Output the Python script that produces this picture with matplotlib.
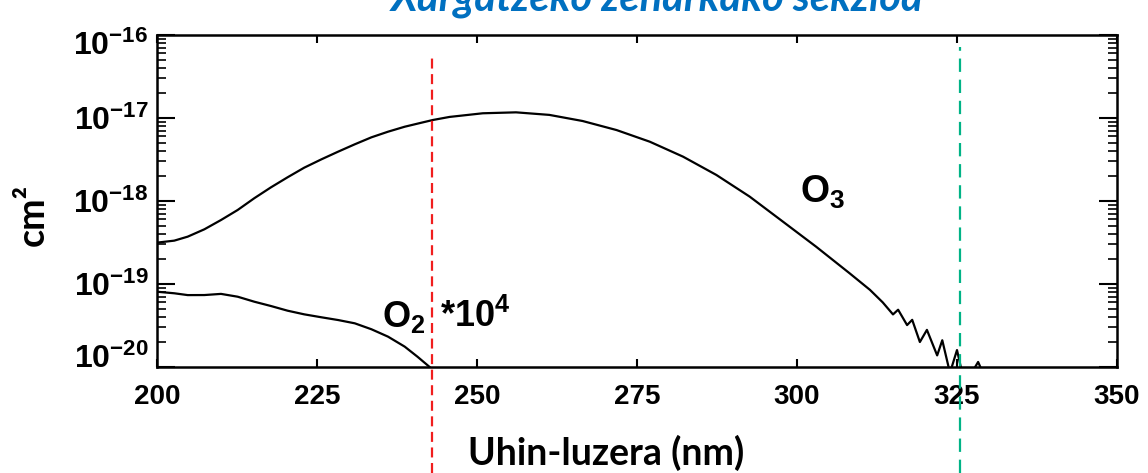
import matplotlib
matplotlib.use("Agg")
import matplotlib.pyplot as plt
import matplotlib.transforms as mtransforms
from matplotlib.ticker import FixedLocator, NullFormatter

# ============================================
# Data
# ============================================

# O3 absorption cross section (cm^2) vs wavelength (nm)
o3_wl = [200, 202.7, 204.8, 207.4, 210.0, 212.6, 215.2, 217.8, 220.4, 223.0, 225.7, 228.3,
         230.9, 233.5, 236.1, 238.7, 241.3, 243.1, 245.7, 250.9, 256.1, 261.3, 266.5,
         271.8, 277.0, 282.2, 287.4, 292.6, 297.8, 303.0, 308.2, 311.4, 313.4, 315.0,
         315.8, 317.2, 318.0, 319.2, 320.3, 321.9, 322.7, 323.9, 325.0, 325.8, 327.3,
         328.3, 329.2]
o3_xs = [3.15e-19, 3.33e-19, 3.72e-19, 4.56e-19, 5.90e-19, 7.79e-19, 1.08e-18, 1.46e-18,
         1.93e-18, 2.52e-18, 3.18e-18, 3.93e-18, 4.82e-18, 5.85e-18, 6.84e-18, 7.85e-18,
         8.77e-18, 9.46e-18, 1.03e-17, 1.14e-17, 1.17e-17, 1.09e-17, 9.20e-18, 7.16e-18,
         5.18e-18, 3.42e-18, 2.06e-18, 1.13e-18, 5.64e-19, 2.81e-19, 1.35e-19, 8.5e-20,
         6.0e-20, 4.3e-20, 4.9e-20, 3.2e-20, 3.7e-20, 2.0e-20, 2.8e-20, 1.38e-20, 2.1e-20,
         8.5e-21, 1.6e-20, 8.5e-21, 8.5e-21, 1.15e-20, 8.0e-21]

# O2 cross section scaled by 10^4 (cm^2)
o2_wl = [200, 202.7, 204.8, 207.4, 210.0, 212.6, 215.2, 217.8, 220.4, 223.0, 225.7, 228.3,
         230.9, 233.5, 236.1, 238.7, 240.7, 242.6, 243.5]
o2_xs = [8.07e-20, 7.73e-20, 7.35e-20, 7.36e-20, 7.6e-20, 7.03e-20, 6.12e-20, 5.43e-20,
         4.77e-20, 4.31e-20, 3.97e-20, 3.68e-20, 3.36e-20, 2.85e-20, 2.32e-20, 1.76e-20,
         1.33e-20, 1.0e-20, 8.5e-21]

x_ticks = [200, 225, 250, 275, 300, 325, 350]
y_ticks = [1e-20, 1e-19, 1e-18, 1e-17, 1e-16]
y_tick_labels = [r"$\mathbf{10^{-20}}$", r"$\mathbf{10^{-19}}$", r"$\mathbf{10^{-18}}$",
                 r"$\mathbf{10^{-17}}$", r"$\mathbf{10^{-16}}$"]

red_line_nm = 243
green_line_nm = 325.5

title = "Xurgatzeko zeharkako sekzioa"
x_label = "Uhin-luzera (nm)"
y_label = "cm²"

# ============================================
# Fonts
# ============================================
plt.rcParams["font.family"] = ["Liberation Sans", "DejaVu Sans"]
plt.rcParams["mathtext.fontset"] = "custom"
for key in ["mathtext.rm", "mathtext.it", "mathtext.bf", "mathtext.sf"]:
    plt.rcParams[key] = "Liberation Sans:bold"

# ============================================
# Figure
# ============================================
fig = plt.figure(figsize=(11.48, 4.73), dpi=100)
ax = fig.add_axes([157 / 1148, 1 - 367 / 473, 960 / 1148, 332 / 473])

ax.plot(o3_wl, o3_xs, color="black", lw=1.6)
ax.plot(o2_wl, o2_xs, color="black", lw=1.6)

ax.set_yscale("log")
ax.set_xlim(200, 350)
ax.set_ylim(1e-20, 1e-16)

ax.set_xticks(x_ticks)
ax.set_xticklabels([str(t) for t in x_ticks], fontweight="bold", fontsize=20)
ax.yaxis.set_major_locator(FixedLocator(y_ticks))
ax.set_yticklabels(y_tick_labels, fontsize=23)

# log minor ticks 2..9 in every decade
minor_y = [k * d for d in y_ticks[:-1] for k in range(2, 10)]
ax.yaxis.set_minor_locator(FixedLocator(minor_y))
ax.yaxis.set_minor_formatter(NullFormatter())

ax.tick_params(axis="x", which="major", direction="in", length=6, width=1.5,
               top=True, pad=12)
ax.tick_params(axis="y", which="major", direction="in", length=13, width=1.5,
               right=True, pad=6)
ax.tick_params(axis="y", which="minor", direction="in", length=6.5, width=1.2,
               right=True)
for s in ax.spines.values():
    s.set_linewidth(1.8)

# shift end labels inward like the original plot
labels = ax.get_yticklabels()
labels[0].set_transform(labels[0].get_transform() +
                        mtransforms.ScaledTranslation(0, 8 / 72, fig.dpi_scale_trans))
labels[-1].set_transform(labels[-1].get_transform() +
                         mtransforms.ScaledTranslation(0, -6 / 72, fig.dpi_scale_trans))

# dashed marker lines running below the axes
ax.axvline(red_line_nm, ymin=-0.32, ymax=0.945, clip_on=False, color="#f01e1e",
           lw=1.6, ls=(0, (4.5, 2.5)))
ax.axvline(green_line_nm, ymin=-0.32, ymax=0.964, clip_on=False, color="#00b386",
           lw=1.6, ls=(0, (6, 3.5)))

# curve labels
ax.text(300.5, 9.5e-19, r"O$_3$", fontsize=27, fontweight="bold")
ax.text(235.2, 3.0e-20, r"O$_2$", fontsize=26, fontweight="bold")
ax.text(244.2, 3.0e-20, r"*10$^4$", fontsize=26, fontweight="bold")

# labels
fig.text(657 / 1148, 1 - 11 / 473, title, ha="center", va="baseline",
         color="#0070c0", fontstyle="italic", fontweight="bold", family="Lato",
         fontsize=30)
fig.text(606 / 1148, 1 - 465 / 473, x_label, ha="center", va="baseline",
         fontweight="bold", family="Lato", fontsize=27)
fig.text(33 / 1148, 1 - 215 / 473, y_label, ha="center", va="center", rotation=90,
         fontweight="bold", family="Lato", fontsize=27)

fig.savefig("out.png", dpi=100)
